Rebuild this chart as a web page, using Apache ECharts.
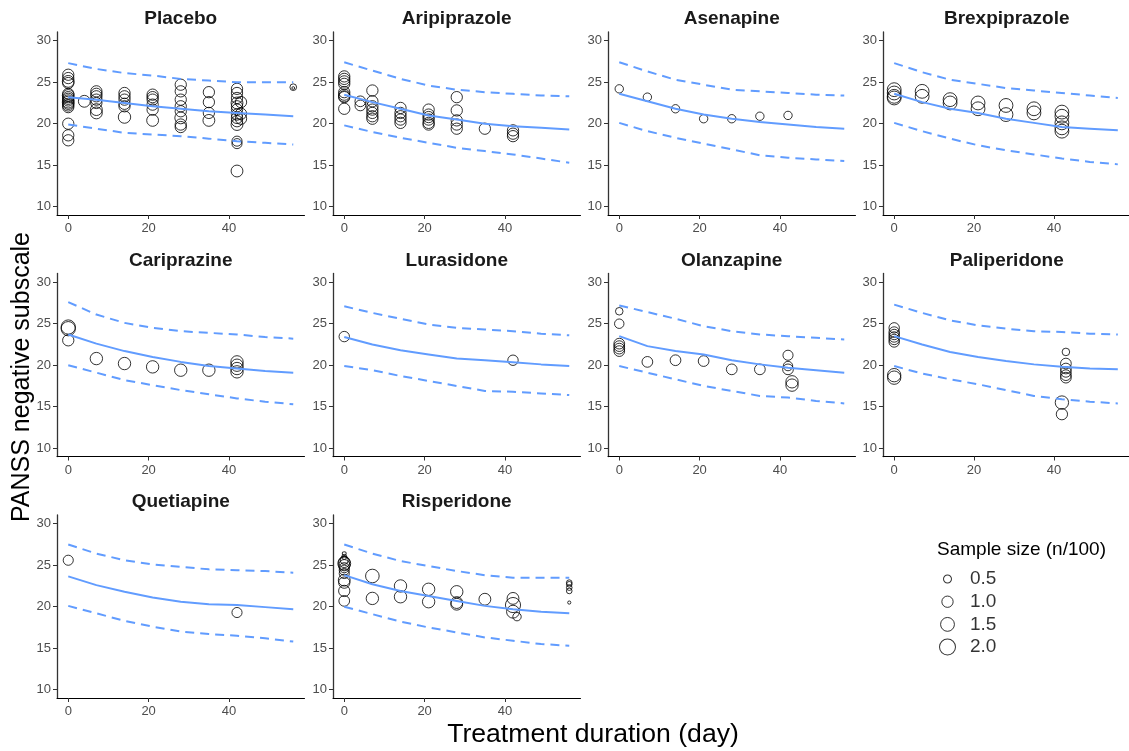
<!DOCTYPE html>
<html>
<head>
<meta charset="utf-8">
<script src="https://cdn.jsdelivr.net/npm/echarts@6/dist/echarts.min.js"></script>
<style>html,body{margin:0;padding:0;background:#fff}#c{width:1129px;height:751px}</style>
</head>
<body>
<div id="c"></div>
<script>
// ---------- data ----------
const drugs = ['Placebo','Aripiprazole','Asenapine','Brexpiprazole','Cariprazine','Lurasidone','Olanzapine','Paliperidone','Quetiapine','Risperidone'];
const lineDays = [0,7,14,21,28,35,42,49,56];
const xTicks = [0,20,40];
const yTicks = [10,15,20,25,30];
const legendSizes = [0.5,1.0,1.5,2.0];

// observed points: [day, score, sample size (n/100)]
const placeboObs = [[0,25.9,1.0],[0,25.5,1.0],[0,25.1,1.1],[0,24.9,1.0],[0,23.6,1.0],[0,23.4,1.1],[0,23.2,1.0],[0,23.0,1.0],[0,22.8,1.0],[0,22.6,1.1],[0,22.4,1.0],[0,22.2,1.0],[0,22.0,1.0],[0,20.0,1.0],[0,18.6,1.0],[0,18.0,1.0],
[4,22.7,1.1],
[7,23.9,1.0],[7,23.6,1.0],[7,23.3,1.0],[7,22.9,1.0],[7,22.5,1.0],[7,21.7,1.1],[7,21.3,1.1],
[14,23.7,1.0],[14,23.3,1.0],[14,22.9,1.0],[14,22.4,1.0],[14,22.1,1.0],[14,20.8,1.2],
[21,23.5,1.0],[21,23.2,1.0],[21,22.9,1.0],[21,22.3,1.0],[21,21.7,1.0],[21,20.4,1.1],
[28,24.7,1.0],[28,23.9,1.0],[28,22.9,1.0],[28,22.1,1.0],[28,21.5,1.0],[28,20.7,1.1],[28,19.9,1.0],[28,19.6,1.0],
[35,23.8,1.0],[35,22.6,1.0],[35,21.3,1.0],[35,20.4,1.1],
[42,24.2,1.0],[42,23.7,1.0],[42,23.1,1.0],[42,22.5,1.1],[42,22.1,1.0],[42,21.7,1.0],[42,21.1,1.0],[42,20.7,1.0],[42,20.3,1.0],[42,19.9,1.1],[42,17.9,0.8],[42,17.6,0.8],[42,14.3,1.1],
[43,22.6,1.0],[43,21.2,1.0],[43,20.6,1.0],
[56,24.4,0.35],[56,24.3,0.06]];
const aripiprazoleObs = [[0,25.7,1.0],[0,25.4,1.0],[0,25.1,1.0],[0,24.8,1.0],[0,23.8,1.0],[0,23.5,1.0],[0,23.3,1.0],[0,23.2,1.0],[0,21.8,1.0],
[4,22.7,0.9],[4,22.2,0.9],
[7,24.0,1.0],[7,22.7,1.0],[7,22.1,1.0],[7,21.7,1.0],[7,21.3,1.0],[7,20.9,1.0],[7,20.6,1.0],
[14,21.9,1.0],[14,21.3,1.0],[14,20.9,1.0],[14,20.5,1.0],[14,20.1,1.0],
[21,21.7,1.0],[21,21.1,1.0],[21,20.8,1.0],[21,20.5,1.0],[21,20.1,1.0],[21,19.9,1.0],
[28,23.2,1.0],[28,21.6,1.0],[28,20.4,1.0],[28,19.9,1.0],[28,19.4,1.0],
[35,19.4,1.0],
[42,19.2,1.0],[42,18.8,1.0],[42,18.5,1.0]];
const asenapineObs = [[0,24.2,0.55],[7,23.2,0.55],[14,21.8,0.55],[21,20.6,0.55],[28,20.6,0.55],[35,20.9,0.55],[42,21.0,0.55]];
const brexpiprazoleObs = [[0,24.1,1.5],[0,23.7,1.5],[0,23.3,1.5],[0,23.1,1.5],[7,23.9,1.5],[7,23.3,1.5],[14,22.9,1.5],[14,22.5,1.5],[21,22.5,1.5],[21,21.8,1.5],[28,22.2,1.5],[28,21.1,1.5],[35,21.8,1.5],[35,21.3,1.5],[42,21.4,1.5],[42,20.9,1.5],[42,20.1,1.5],[42,19.5,1.5],[42,19.1,1.5]];
const cariprazineObs = [[0,24.6,1.6],[0,24.4,1.6],[0,23.0,1.0],[7,20.8,1.2],[14,20.2,1.2],[21,19.8,1.2],[28,19.4,1.2],[35,19.4,1.2],[42,20.4,1.2],[42,20.0,1.2],[42,19.6,1.2],[42,19.2,1.2]];
const lurasidoneObs = [[0,23.45,0.85],[42,20.6,0.85]];
const olanzapineObs = [[0,26.5,0.45],[0,25.0,0.7],[0,22.6,0.9],[0,22.3,0.9],[0,22.0,0.9],[0,21.7,0.9],[7,20.4,0.9],[14,20.6,0.9],[21,20.5,0.9],[28,19.5,0.9],[35,19.5,0.9],[42,21.2,0.8],[42,19.9,0.7],[42,19.5,0.9],[43,18.0,1.2],[43,17.6,1.2]];
const paliperidoneObs = [[0,24.5,0.85],[0,24.0,0.85],[0,23.7,0.85],[0,23.4,0.85],[0,23.1,0.85],[0,22.8,0.85],[0,18.8,1.4],[0,18.5,1.4],[43,21.6,0.45],[43,20.2,0.9],[43,19.6,0.9],[43,19.2,0.9],[43,18.8,0.9],[43,18.5,0.9],[42,15.5,1.4],[42,14.1,1.0]];
const quetiapineObs = [[0,25.6,0.8],[42,19.3,0.8]];
const risperidoneObs = [[0,26.4,0.12],[0,26.0,0.2],[0,25.6,0.5],[0,25.4,1.0],[0,25.2,1.3],[0,25.0,1.0],[0,24.7,0.8],[0,24.4,0.8],[0,24.0,0.8],[0,23.2,1.1],[0,22.9,1.0],[0,21.9,1.0],[0,20.7,0.9],[7,23.7,1.45],[7,21.0,1.2],[14,22.5,1.2],[14,21.2,1.2],[21,22.1,1.2],[21,20.6,1.2],[28,21.8,1.2],[28,20.5,1.1],[28,20.3,1.1],[35,20.9,1.1],[42,21.0,1.1],[42,20.2,1.8],[42,19.4,1.3],[43,18.8,0.55],[56,22.9,0.25],[56,22.7,0.25],[56,22.3,0.25],[56,21.9,0.25],[56,20.5,0.08]];

// model prediction: median and prediction interval at lineDays
const placeboMedian = [23.2,22.9,22.5,22.1,21.8,21.5,21.3,21.1,20.9];
const placeboUpper  = [27.3,26.6,26.1,25.8,25.4,25.2,25.0,25.0,25.0];
const placeboLower  = [19.9,19.4,18.9,18.7,18.5,18.2,17.9,17.7,17.5];
const aripiprazoleMedian = [23.5,22.6,21.8,21.0,20.5,20.0,19.7,19.5,19.3];
const aripiprazoleUpper  = [27.4,26.4,25.4,24.6,24.1,23.8,23.6,23.4,23.3];
const aripiprazoleLower  = [19.8,19.0,18.3,17.7,17.1,16.7,16.3,15.8,15.3];
const asenapineMedian = [23.6,22.7,21.8,21.1,20.6,20.2,19.9,19.6,19.4];
const asenapineUpper  = [27.4,26.3,25.3,24.7,24.1,23.9,23.7,23.5,23.4];
const asenapineLower  = [20.1,19.1,18.3,17.6,16.9,16.2,15.9,15.7,15.5];
const brexpiprazoleMedian = [23.6,22.6,21.8,21.3,20.6,20.1,19.6,19.4,19.2];
const brexpiprazoleUpper  = [27.3,26.2,25.3,24.8,24.3,24.0,23.7,23.4,23.1];
const brexpiprazoleLower  = [20.1,19.1,18.2,17.4,16.8,16.3,15.8,15.4,15.1];
const cariprazineMedian = [23.7,22.6,21.7,21.0,20.4,19.9,19.6,19.3,19.1];
const cariprazineUpper  = [27.6,26.1,25.1,24.5,24.1,23.9,23.7,23.4,23.2];
const cariprazineLower  = [20.0,19.1,18.2,17.6,17.0,16.5,16.0,15.6,15.3];
const lurasidoneMedian = [23.4,22.5,21.8,21.3,20.8,20.6,20.35,20.1,19.9];
const lurasidoneUpper  = [27.1,26.3,25.6,24.9,24.5,24.3,24.1,23.8,23.6];
const lurasidoneLower  = [19.9,19.4,18.7,18.1,17.5,16.9,16.8,16.6,16.4];
const olanzapineMedian = [23.5,22.3,21.7,21.3,20.6,20.1,19.7,19.4,19.1];
const olanzapineUpper  = [27.2,26.4,25.6,24.7,24.1,23.7,23.5,23.3,23.1];
const olanzapineLower  = [19.9,19.1,18.3,17.5,16.9,16.3,16.1,15.7,15.4];
const paliperidoneMedian = [23.5,22.5,21.6,21.0,20.5,20.1,19.8,19.6,19.5];
const paliperidoneUpper  = [27.3,26.3,25.4,24.8,24.4,24.1,24.0,23.8,23.7];
const paliperidoneLower  = [19.9,19.0,18.3,17.7,17.0,16.3,15.9,15.6,15.4];
const quetiapineMedian = [23.65,22.6,21.8,21.1,20.6,20.3,20.2,19.95,19.7];
const quetiapineUpper  = [27.5,26.4,25.6,25.1,24.8,24.5,24.4,24.3,24.1];
const quetiapineLower  = [20.1,19.2,18.3,17.6,17.0,16.7,16.5,16.2,15.8];
const risperidoneMedian = [23.8,22.7,21.9,21.3,20.7,20.1,19.7,19.4,19.2];
const risperidoneUpper  = [27.5,26.4,25.5,24.9,24.3,23.8,23.5,23.5,23.5];
const risperidoneLower  = [20.0,19.1,18.2,17.5,16.9,16.3,15.9,15.5,15.3];

const obsList = [placeboObs,aripiprazoleObs,asenapineObs,brexpiprazoleObs,cariprazineObs,lurasidoneObs,olanzapineObs,paliperidoneObs,quetiapineObs,risperidoneObs];
const medList = [placeboMedian,aripiprazoleMedian,asenapineMedian,brexpiprazoleMedian,cariprazineMedian,lurasidoneMedian,olanzapineMedian,paliperidoneMedian,quetiapineMedian,risperidoneMedian];
const upList  = [placeboUpper,aripiprazoleUpper,asenapineUpper,brexpiprazoleUpper,cariprazineUpper,lurasidoneUpper,olanzapineUpper,paliperidoneUpper,quetiapineUpper,risperidoneUpper];
const loList  = [placeboLower,aripiprazoleLower,asenapineLower,brexpiprazoleLower,cariprazineLower,lurasidoneLower,olanzapineLower,paliperidoneLower,quetiapineLower,risperidoneLower];

// ---------- layout ----------
const FONT = 'Liberation Sans, Arial, Helvetica, sans-serif';
const colLeft = [57, 333, 608, 883];
const rowTop = [32, 273.5, 515];
const PW = 247.5, PH = 183;
const titleY = [19.2, 261.2, 502.2];
const LINE = '#619CFF';
const sizeOf = n => 11.3 * Math.sqrt(n);

const grids = [], xAxes = [], yAxes = [], series = [], graphics = [];
drugs.forEach((name, i) => {
  const r = Math.floor(i / 4), c = i % 4;
  grids.push({left: colLeft[c], top: rowTop[r], width: PW, height: PH});
  xAxes.push({
    type: 'value', gridIndex: i, min: -2.8, max: 58.8,
    splitLine: {show: false},
    axisLine: {onZero: false, lineStyle: {color: '#000', width: 1}},
    axisTick: {length: 4, customValues: xTicks, lineStyle: {color: '#333'}},
    axisLabel: {customValues: xTicks, margin: 7, fontSize: 13, color: '#4d4d4d', fontFamily: FONT}
  });
  yAxes.push({
    type: 'value', gridIndex: i, min: 9, max: 31.05,
    splitLine: {show: false},
    axisLine: {show: true, onZero: false, lineStyle: {color: '#333', width: 1.3}},
    axisTick: {show: true, length: 4, customValues: yTicks, lineStyle: {color: '#333'}},
    axisLabel: {customValues: yTicks, margin: 6, fontSize: 13, color: '#4d4d4d', fontFamily: FONT}
  });
  const mk = (arr) => lineDays.map((d, k) => [d, arr[k]]);
  series.push({type: 'line', xAxisIndex: i, yAxisIndex: i, data: mk(medList[i]), symbol: 'none', silent: true,
    lineStyle: {color: LINE, width: 2}});
  series.push({type: 'line', xAxisIndex: i, yAxisIndex: i, data: mk(upList[i]), symbol: 'none', silent: true,
    lineStyle: {color: LINE, width: 2, type: [9, 6]}});
  series.push({type: 'line', xAxisIndex: i, yAxisIndex: i, data: mk(loList[i]), symbol: 'none', silent: true,
    lineStyle: {color: LINE, width: 2, type: [9, 6]}});
  series.push({type: 'scatter', xAxisIndex: i, yAxisIndex: i, data: obsList[i], clip: false, silent: true,
    symbol: 'circle', symbolSize: d => sizeOf(d[2]),
    itemStyle: {color: 'rgba(0,0,0,0)', borderColor: '#000', borderWidth: 1}});
  graphics.push({type: 'text', x: colLeft[c] + PW / 2, y: titleY[r], silent: true,
    style: {text: name, font: 'bold 19px ' + FONT, fill: '#1a1a1a', align: 'center', verticalAlign: 'middle'}});
});

// legend panel
const LI = drugs.length;
grids.push({left: 925, top: 567.7, width: 45, height: 90.7});
xAxes.push({type: 'value', gridIndex: LI, min: 0, max: 1, show: false});
yAxes.push({type: 'category', gridIndex: LI, data: legendSizes.map(s => s.toFixed(1)), inverse: true, show: false});
series.push({type: 'scatter', xAxisIndex: LI, yAxisIndex: LI, silent: true, clip: false,
  data: legendSizes.map((s, k) => [0.5, k, s]), symbol: 'circle', symbolSize: d => sizeOf(d[2]),
  itemStyle: {color: 'rgba(0,0,0,0)', borderColor: '#000', borderWidth: 1}});
series.push({type: 'scatter', xAxisIndex: LI, yAxisIndex: LI, silent: true, clip: false,
  data: legendSizes.map((s, k) => [1, k, s]), symbolSize: 0,
  label: {show: true, position: 'right', distance: 0, formatter: p => p.value[2].toFixed(1),
    fontSize: 19, color: '#000', fontFamily: FONT}});
graphics.push({type: 'text', x: 937, y: 550, silent: true,
  style: {text: 'Sample size (n/100)', font: '19px ' + FONT, fill: '#000', align: 'left', verticalAlign: 'middle'}});

// axis titles
graphics.push({type: 'text', x: 593, y: 735, silent: true,
  style: {text: 'Treatment duration (day)', font: '26.6px ' + FONT, fill: '#000', align: 'center', verticalAlign: 'middle'}});
graphics.push({type: 'text', x: 22, y: 377, rotation: Math.PI / 2, silent: true,
  style: {text: 'PANSS negative subscale', font: '25px ' + FONT, fill: '#000', align: 'center', verticalAlign: 'middle'}});

const chart = echarts.init(document.getElementById('c'), null, {renderer: 'canvas'});
chart.setOption({
  animation: false,
  backgroundColor: '#fff',
  grid: grids, xAxis: xAxes, yAxis: yAxes, series: series,
  graphic: graphics
});
</script>
</body>
</html>
